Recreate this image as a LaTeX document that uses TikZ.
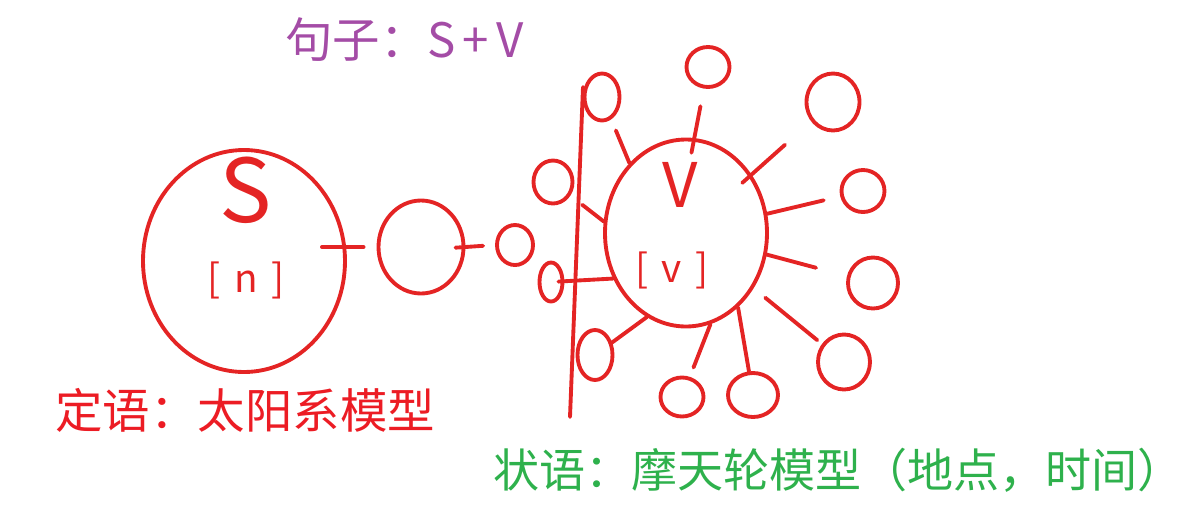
\documentclass[tikz,border=0pt]{standalone}
\usepackage{fontspec}
\setmainfont{Noto Sans CJK SC}
\usepackage{xcolor}
\usepackage{tikz}
\usetikzlibrary{
  positioning,
  shapes.geometric
}
\definecolor{pen}{RGB}{228,36,36}
\definecolor{dingyu}{RGB}{236,28,36}
\definecolor{zhuangyu}{RGB}{46,177,76}
\definecolor{juzi}{RGB}{164,76,166}

\begin{document}
\begin{tikzpicture}[
  x=0.2mm,y=-0.2mm,
  ring/.style={ellipse,draw=pen,line width=2.2pt,inner sep=0pt},
  ln/.style={draw=pen,line width=2.2pt,line cap=round},
  lab/.style={anchor=west,inner sep=0pt,font=\fontsize{27pt}{30pt}\selectfont},
  hand/.style={text=pen,inner sep=0pt}
]
\useasboundingbox (0,0) rectangle (1189,517);
% subject and its modifiers
\node[ring,minimum width=4.04cm,minimum height=4.44cm] (s) at (244,261) {};
\node[ring,minimum width=1.7cm,minimum height=1.86cm] (mod1) at (421,247) {};
\node[ring,minimum width=0.72cm,minimum height=0.8cm] (mod2) at (515,245) {};
\node[hand,font=\fontsize{50pt}{50pt}\selectfont] (slet) at (246,190) {S};
\node[hand,font=\fontsize{22pt}{22pt}\selectfont] (sn) at (246,280) {[\hspace{0.35em}n\hspace{0.35em}]};
\draw[ln,shorten <=-0.5cm,shorten >=0.26cm] (s.east |- mod1.west) -- (mod1.west);
\draw[ln,shorten <=-0.2cm,shorten >=0.24cm] (mod1.east) -- (mod2.west);
% verb and the adverbials around it
\node[ring,minimum width=3.24cm,minimum height=3.74cm] (v) at (686,233) {};
\node[hand,font=\fontsize{35pt}{35pt}\selectfont] (vlet) at (680,185) {V};
\node[hand,font=\fontsize{22pt}{22pt}\selectfont] (vn) at (672,270) {[\hspace{0.35em}v\hspace{0.35em}]};
\node[ring,minimum width=0.7cm,minimum height=0.94cm] (adv1) at (602,97) {};
\node[ring,minimum width=0.86cm,minimum height=0.8cm] (adv2) at (708,67) {};
\node[ring,minimum width=1.06cm,minimum height=1.14cm] (adv3) at (833,102) {};
\node[ring,minimum width=0.86cm,minimum height=0.84cm] (adv4) at (863,191) {};
\node[ring,minimum width=1.0cm,minimum height=1.02cm] (adv5) at (873,283) {};
\node[ring,minimum width=1.04cm,minimum height=1.1cm] (adv6) at (844,362) {};
\node[ring,minimum width=1.0cm,minimum height=0.88cm] (adv7) at (753,395) {};
\node[ring,minimum width=0.86cm,minimum height=0.78cm] (adv8) at (682,397) {};
\node[ring,minimum width=0.7cm,minimum height=1.0cm] (adv9) at (595,355) {};
\node[ring,minimum width=0.46cm,minimum height=0.78cm] (adv10) at (551,282) {};
\node[ring,minimum width=0.78cm,minimum height=0.86cm] (adv11) at (553,182) {};
\coordinate (wtop) at (583,87);
\coordinate (wbot) at (570,417);
\draw[ln] (wtop) -- (wbot);
\draw[ln,shorten >=0.24cm] (v.129) -- (adv1);
\draw[ln,shorten <=-0.3cm,shorten >=0.36cm] (v.85) -- (adv2);
\draw[ln,shorten <=-0.25cm,shorten >=0.7cm] (v) -- (adv3);
\draw[ln,shorten >=0.34cm] (v) -- (adv4);
\draw[ln,shorten >=0.64cm] (v) -- (adv5);
\draw[ln,shorten <=0.3cm,shorten >=0.12cm] (v) -- (adv6);
\draw[ln] (v.-55) -- (adv7);
\draw[ln,shorten >=0.2cm] (v.-75) -- (adv8);
\draw[ln] (v.-115) -- (adv9);
\draw[ln,shorten >=-0.12cm] (v.-148) -- (adv10);
\draw[ln,shorten >=0.3cm] (v.172) -- (adv11);
% labels
\node[lab,text=juzi] (title) at (285,40) {句子：S\kern4pt+\kern4pt V};
\node[lab,text=dingyu] (dingyu) at (55,410) {定语：太阳系模型};
\node[lab,text=zhuangyu,font=\fontsize{26.2pt}{30pt}\selectfont] (zhuangyu) at (493,470) {状语：摩天轮模型（地点，时间）};
\end{tikzpicture}
\end{document}
